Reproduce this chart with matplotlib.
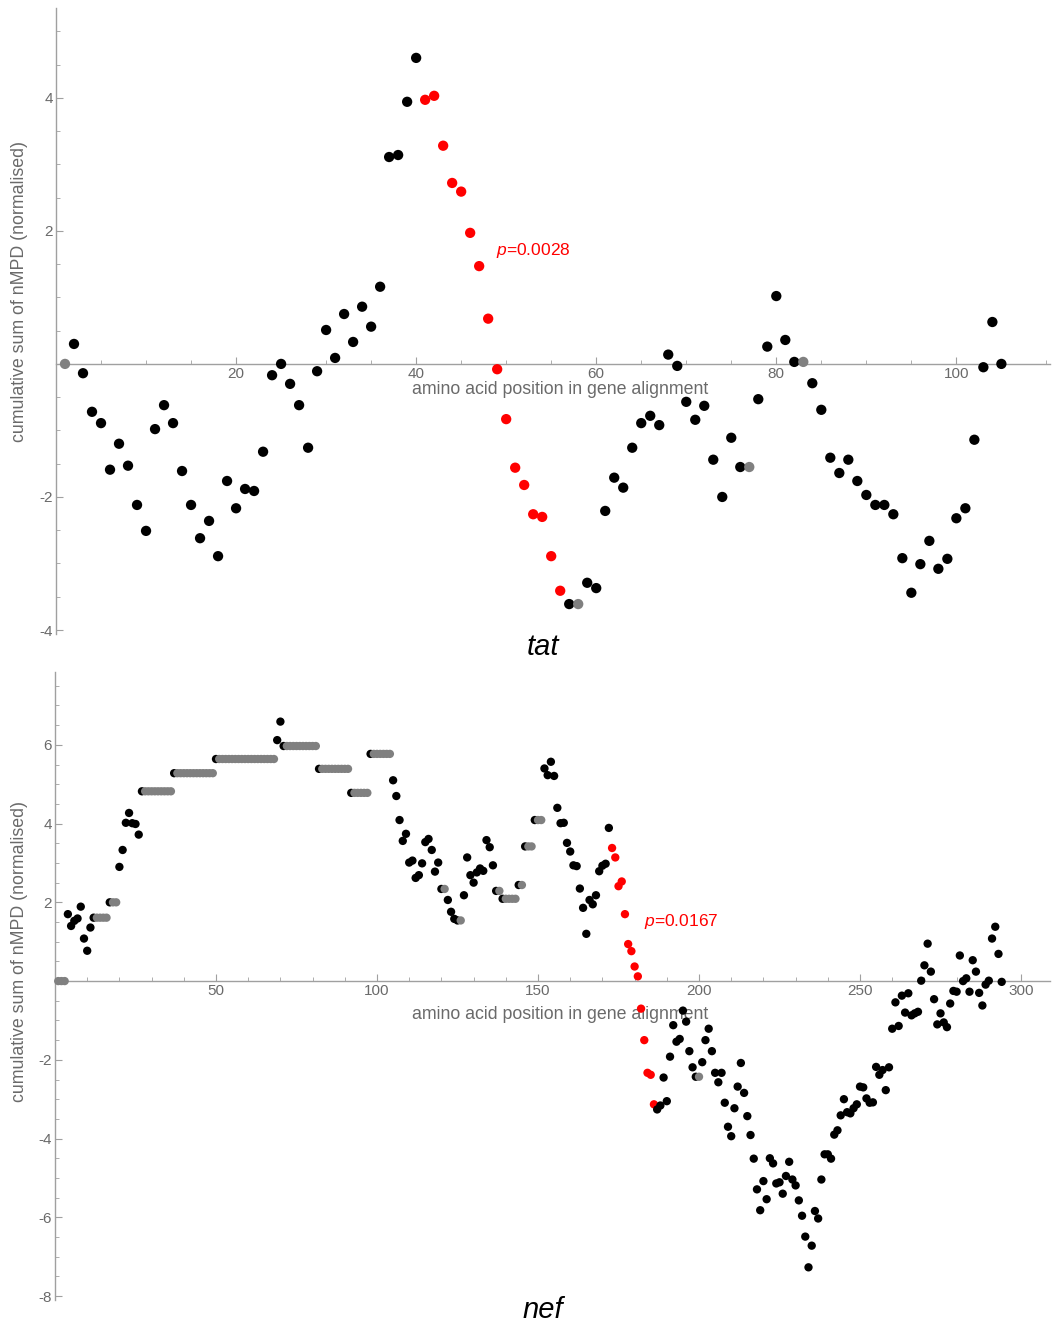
import matplotlib
matplotlib.use("Agg")
import matplotlib.pyplot as plt
from matplotlib.ticker import FixedLocator, MultipleLocator

plt.rcParams['font.family'] = ['Liberation Sans', 'DejaVu Sans']
plt.rcParams['axes.unicode_minus'] = False
plt.rcParams['mathtext.fontset'] = 'custom'
plt.rcParams['mathtext.it'] = 'Liberation Sans:italic'
plt.rcParams['mathtext.rm'] = 'Liberation Sans'

# tat: cumulative nMPD per amino acid position 1..105
tat_values = [
    0.00, 0.30, -0.14, -0.72, -0.89, -1.59, -1.20, -1.53, -2.12, -2.51,
    -0.98, -0.62, -0.89, -1.61, -2.12, -2.62, -2.36, -2.89, -1.76, -2.17,
    -1.88, -1.91, -1.32, -0.17, 0.00, -0.30, -0.62, -1.26, -0.11, 0.51,
    0.09, 0.75, 0.33, 0.86, 0.56, 1.16, 3.11, 3.14, 3.94, 4.60,
    3.97, 4.03, 3.28, 2.72, 2.59, 1.97, 1.47, 0.68, -0.08, -0.83,
    -1.56, -1.82, -2.26, -2.30, -2.89, -3.41, -3.61, -3.61, -3.29, -3.37,
    -2.21, -1.71, -1.86, -1.26, -0.89, -0.78, -0.92, 0.14, -0.03, -0.57,
    -0.84, -0.63, -1.44, -2.00, -1.11, -1.55, -1.55, -0.53, 0.26, 1.02,
    0.36, 0.03, 0.03, -0.29, -0.69, -1.41, -1.64, -1.44, -1.76, -1.97,
    -2.12, -2.12, -2.26, -2.92, -3.44, -3.01, -2.66, -3.08, -2.93, -2.32,
    -2.17, -1.14, -0.05, 0.63, 0.00,
]
tat_gray = [1, 58, 77, 83]
tat_red = list(range(41, 57))

# nef: positions 1..294
nef_values = [
    0, 0, 0, 1.70, 1.40, 1.53, 1.59, 1.89, 1.08, 0.77,
    1.36, 1.61, 1.61, 1.61, 1.61, 1.61, 2.00, 2.00, 2.00, 2.90,
    3.33, 4.02, 4.27, 4.01, 3.99, 3.72, 4.82, 4.82, 4.82, 4.82,
    4.82, 4.82, 4.82, 4.82, 4.82, 4.82, 5.28, 5.28, 5.28, 5.28,
    5.28, 5.28, 5.28, 5.28, 5.28, 5.28, 5.28, 5.28, 5.28, 5.64,
    5.64, 5.64, 5.64, 5.64, 5.64, 5.64, 5.64, 5.64, 5.64, 5.64,
    5.64, 5.64, 5.64, 5.64, 5.64, 5.64, 5.64, 5.64, 6.12, 6.59,
    5.97, 5.97, 5.97, 5.97, 5.97, 5.97, 5.97, 5.97, 5.97, 5.97,
    5.97, 5.39, 5.39, 5.39, 5.39, 5.39, 5.39, 5.39, 5.39, 5.39,
    5.39, 4.78, 4.78, 4.78, 4.78, 4.78, 4.78, 5.77, 5.77, 5.77,
    5.77, 5.77, 5.77, 5.77, 5.10, 4.70, 4.09, 3.56, 3.74, 3.01,
    3.06, 2.62, 2.69, 2.99, 3.53, 3.61, 3.33, 2.78, 3.01, 2.34,
    2.34, 2.06, 1.76, 1.58, 1.54, 1.54, 2.18, 3.14, 2.69, 2.50,
    2.76, 2.86, 2.80, 3.58, 3.40, 2.94, 2.29, 2.29, 2.09, 2.09,
    2.09, 2.09, 2.09, 2.44, 2.44, 3.42, 3.42, 3.42, 4.09, 4.09,
    4.09, 5.40, 5.23, 5.57, 5.21, 4.40, 4.01, 4.02, 3.51, 3.29,
    2.94, 2.92, 2.35, 1.86, 1.20, 2.06, 1.95, 2.18, 2.79, 2.93,
    2.98, 3.89, 3.38, 3.14, 2.41, 2.53, 1.70, 0.94, 0.76, 0.37,
    0.12, -0.70, -1.50, -2.33, -2.38, -3.13, -3.26, -3.16, -2.45, -3.05,
    -1.92, -1.12, -1.54, -1.47, -0.75, -1.03, -1.78, -2.19, -2.43, -2.43,
    -2.06, -1.50, -1.21, -1.78, -2.33, -2.57, -2.33, -3.09, -3.70, -3.94,
    -3.23, -2.68, -2.08, -2.84, -3.43, -3.91, -4.51, -5.29, -5.82, -5.08,
    -5.54, -4.50, -4.63, -5.14, -5.11, -5.40, -4.95, -4.59, -5.04, -5.19,
    -5.57, -5.96, -6.49, -7.27, -6.72, -5.84, -6.03, -5.04, -4.40, -4.40,
    -4.51, -3.90, -3.79, -3.41, -3.00, -3.33, -3.36, -3.23, -3.13, -2.68,
    -2.70, -2.98, -3.09, -3.08, -2.18, -2.38, -2.26, -2.77, -2.19, -1.21,
    -0.54, -1.14, -0.37, -0.80, -0.31, -0.87, -0.82, -0.78, 0.01, 0.40,
    0.95, 0.24, -0.46, -1.10, -0.82, -1.05, -1.17, -0.57, -0.25, -0.27,
    0.65, 0.00, 0.07, -0.27, 0.53, 0.24, -0.30, -0.62, -0.09, 0.01,
    1.08, 1.38, 0.69, -0.02,
]
nef_gray = ([1, 2, 3] + list(range(13, 17)) + [18, 19] + list(range(28, 37))
            + list(range(38, 50)) + list(range(51, 69)) + list(range(72, 82))
            + list(range(83, 92)) + list(range(93, 98)) + list(range(99, 105))
            + [121, 126, 138, 140, 141, 142, 143, 145, 147, 148, 150, 151, 200])
nef_red = list(range(173, 187))

AXIS_COLOR = '#a0a0a0'
TEXT_COLOR = '#6a6a6a'


def colours(n, gray, red):
    c = []
    for i in range(1, n + 1):
        if i in red:
            c.append('#ff0000')
        elif i in gray:
            c.append('#808080')
        else:
            c.append('black')
    return c


def panel(ax, values, gray, red, size, xlim, ylim, xmajor, xminor, ymajor):
    xs = list(range(1, len(values) + 1))
    ax.scatter(xs, values, s=size, c=colours(len(values), gray, red),
               linewidths=0, zorder=3, clip_on=False)
    ax.set_xlim(*xlim)
    ax.set_ylim(*ylim)
    ax.spines['top'].set_visible(False)
    ax.spines['right'].set_visible(False)
    ax.spines['bottom'].set_position(('data', 0))
    for s in ['left', 'bottom']:
        ax.spines[s].set_color(AXIS_COLOR)
        ax.spines[s].set_linewidth(1.0)
    ax.xaxis.set_major_locator(FixedLocator(xmajor))
    ax.xaxis.set_minor_locator(MultipleLocator(xminor))
    ax.yaxis.set_major_locator(FixedLocator(ymajor))
    ax.yaxis.set_minor_locator(MultipleLocator(0.5))
    ax.tick_params(which='both', direction='in', color=AXIS_COLOR,
                   labelcolor=TEXT_COLOR, labelsize=11)
    ax.tick_params(which='major', length=5, width=0.8)
    ax.tick_params(which='minor', length=3, width=0.6)
    ax.tick_params(axis='x', pad=2)
    ax.tick_params(axis='y', pad=2)
    ax.patch.set_alpha(0)


fig = plt.figure(figsize=(10.58, 13.23), dpi=100)

ax1 = fig.add_axes([56 / 1058, 1 - 634 / 1323, 994 / 1058, 626 / 1323])
panel(ax1, tat_values, tat_gray, tat_red, 55, (0, 110.4), (-4.06, 5.35),
      [20, 40, 60, 80, 100], 5, [-4, -2, 2, 4])
ax1.text(56.0, -0.38, 'amino acid position in gene alignment', ha='center',
         va='center', fontsize=12.8, color=TEXT_COLOR, zorder=2)
ax1.text(48.9, 1.71, '$p$=0.0028', color='#ff0000', fontsize=12.5,
         ha='left', va='center')

ax2 = fig.add_axes([55 / 1058, 1 - 1300 / 1323, 995 / 1058, 628 / 1323])
panel(ax2, nef_values, nef_gray, nef_red, 36, (0, 309), (-8.1, 7.85),
      [50, 100, 150, 200, 250, 300], 10, [-8, -6, -4, -2, 2, 4, 6])
ax2.text(156.8, -0.84, 'amino acid position in gene alignment', ha='center',
         va='center', fontsize=12.8, color=TEXT_COLOR, zorder=2)
ax2.text(182.9, 1.52, '$p$=0.0167', color='#ff0000', fontsize=12.5,
         ha='left', va='center')

for yc in [291, 952]:
    fig.text(20 / 1058, 1 - yc / 1323, 'cumulative sum of nMPD (normalised)',
             rotation=90, ha='center', va='center', fontsize=12.8,
             color=TEXT_COLOR)

fig.text(543 / 1058, 1 - 647 / 1323, 'tat', style='italic', fontsize=21,
         ha='center', va='center')
fig.text(543 / 1058, 1 - 1310 / 1323, 'nef', style='italic', fontsize=21,
         ha='center', va='center')

fig.savefig('out.png', dpi=100)
